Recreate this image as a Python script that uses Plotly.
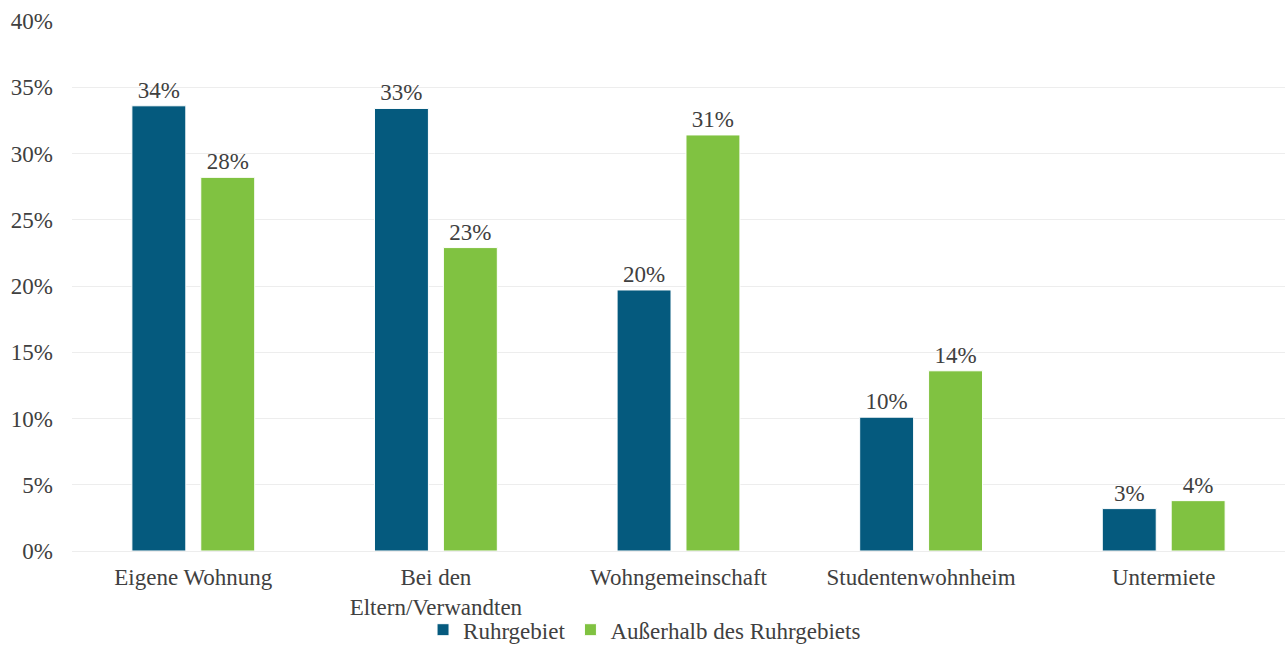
import plotly.graph_objects as go

categories = ["Eigene Wohnung", "Bei den<br>Eltern/Verwandten", "Wohngemeinschaft",
              "Studentenwohnheim", "Untermiete"]
ruhrgebiet = [33.6, 33.4, 19.7, 10.1, 3.2]
ausserhalb = [28.2, 22.9, 31.4, 13.6, 3.8]
tick_values = [0, 5, 10, 15, 20, 25, 30, 35, 40]
tick_labels = [f"{v}%" for v in tick_values]

FONT = "Liberation Serif"
TEXT = "#404040"
SIZE = 23

fig = go.Figure()
fig.add_trace(go.Bar(
    name="Ruhrgebiet", x=categories, y=ruhrgebiet,
    marker=dict(color="#055A7E", line=dict(color="#FFFFFF", width=1)),
    texttemplate="%{y:.0f}%", textposition="outside",
    textfont=dict(family=FONT, size=SIZE, color=TEXT), cliponaxis=False,
))
fig.add_trace(go.Bar(
    name="Außerhalb des Ruhrgebiets", x=categories, y=ausserhalb,
    marker=dict(color="#80C241", line=dict(color="#FFFFFF", width=1)),
    texttemplate="%{y:.0f}%", textposition="outside",
    textfont=dict(family=FONT, size=SIZE, color=TEXT), cliponaxis=False,
))

fig.update_layout(
    width=1285, height=646,
    margin=dict(l=72, r=0, t=21, b=95, autoexpand=False),
    paper_bgcolor="white", plot_bgcolor="white",
    barmode="group", bargap=0.432, bargroupgap=0.217,
    font=dict(family=FONT, size=SIZE, color=TEXT),
    showlegend=True,
    legend=dict(orientation="h", x=0.472, xanchor="center", y=-0.108, yanchor="top",
                bgcolor="rgba(0,0,0,0)",
                font=dict(family=FONT, size=SIZE, color=TEXT), traceorder="normal",
                itemwidth=30, tracegroupgap=0),
)
fig.update_yaxes(
    range=[0, 40], tickvals=tick_values, ticktext=tick_labels,
    showgrid=True, gridcolor="#EDEDED", gridwidth=1,
    zeroline=True, zerolinecolor="#EDEDED", zerolinewidth=1,
    showline=False, ticks="", ticklabelstandoff=18, automargin=False,
    tickfont=dict(family=FONT, size=SIZE, color=TEXT),
)
fig.update_xaxes(
    showgrid=False, showline=False, ticks="", ticklabelstandoff=10, automargin=False,
    tickfont=dict(family=FONT, size=SIZE, color=TEXT),
)

fig.write_html("out.html")
